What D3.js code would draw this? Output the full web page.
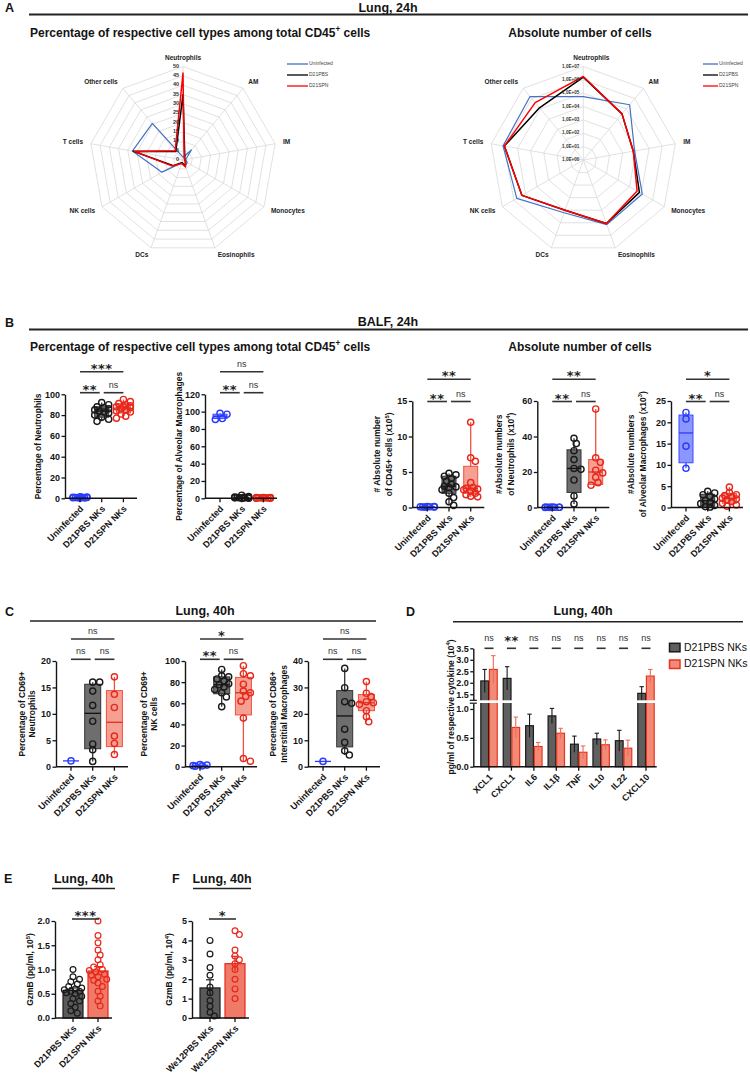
<!DOCTYPE html>
<html><head><meta charset="utf-8">
<script src="https://cdn.jsdelivr.net/npm/d3@7"></script>
<style>body{margin:0;background:#fff}svg{display:block}</style>
</head><body>
<svg id="fig" width="750" height="1085"></svg>
<script>
// ================= DATA =================
// Panel A – radar charts (Lung, 24h)
const radarCats = ["Neutrophils","AM","IM","Monocytes","Eosinophils","DCs","NK cells","T cells","Other cells"];
const radarSeries = ["Uninfected","D21PBS","D21SPN"];
const pctUninfected = [1.5, 7, 1.5, 2.6, 3.5, 1.5, 13, 27.5, 25.5];
const pctD21PBS     = [35, 1.5, 1, 1.5, 3.5, 1.5, 6, 27, 6];
const pctD21SPN     = [46.5, 1, 1, 1.5, 4, 2, 6.5, 26.5, 6.5];
const absUninfected = [5.6e4, 2.5e5, 7.9e3, 1.26e5, 1.4e5, 1.6e4, 5.6e5, 1.26e6, 1.6e6];
const absD21PBS     = [1.6e6, 3.2e4, 6.3e3, 7.1e4, 1.15e5, 1.0e4, 2.0e5, 1.0e6, 1.26e5];
const absD21SPN     = [1.8e6, 3.2e4, 6.3e3, 4.5e4, 1.15e5, 1.0e4, 2.0e5, 1.0e6, 4.0e5];
const pctTicks = [0,5,10,15,20,25,30,35,40,45,50];
const absTicks = [1e0,1e1,1e2,1e3,1e4,1e5,1e6,1e7];

// Panels B/C – groups
const groups3 = ["Uninfected","D21PBS NKs","D21SPN NKs"];
// B: % neutrophils (BALF)
const neutPctUninf = [0.2,0.4,0.5,0.7,0.8,1.0,1.2,1.5,0.6,0.9];
const neutPctPBS   = [74,76,78,80,82,83,84,85,86,87,88,90,92];
const neutPctSPN   = [77,79,81,83,84,85,86,87,88,88,89,90,91,93,95];
const neutPctBox   = [[0.2,0.4,0.7,1.0,1.5],[74,78,84,88,92],[77,82,87,91,95]];
// B: % alveolar macrophages
const amPctUninf = [91,92,97,98];
const amPctPBS   = [0.1,0.3,0.5,0.7,0.9,1.1,1.4,2.0,3.5,0.2,0.6];
const amPctSPN   = [0.1,0.2,0.3,0.4,0.5,0.6,0.7,0.8,0.9,1.0,0.3,0.5];
const amPctBox   = [[91,92,94.5,97,98],[0.1,0.3,0.7,1.4,3.5],[0.1,0.3,0.5,0.8,1.0]];
// B: absolute CD45+ (x10^5)
const cd45AbsUninf = [0.05,0.08,0.1,0.12,0.15,0.1,0.07];
const cd45AbsPBS   = [0.3,0.8,1.4,2.0,2.5,2.8,2.9,3.0,3.3,3.7,4.1,4.4,4.6,4.8];
const cd45AbsSPN   = [1.5,1.6,1.8,2.0,2.3,2.5,2.6,2.7,2.8,3.5,6.5,7.0,12.0];
const cd45AbsBox   = [[0.05,0.07,0.1,0.12,0.15],[0.3,2.0,3.0,4.4,4.8],[1.5,2.0,2.7,5.8,12.0]];
// B: absolute neutrophils (x10^4)
const neutAbsUninf = [0.05,0.1,0.1,0.15,0.2,0.1,0.05,0.1];
const neutAbsPBS   = [2,6.5,15.5,21.5,22,27,32,36,39];
const neutAbsSPN   = [12.5,14,17,19.5,21,25.5,28,55.5];
const neutAbsBox   = [[0.05,0.08,0.1,0.15,0.2],[2,8.5,22,32.5,39],[12.5,13,20,27,55.5]];
// B: absolute alveolar macrophages (x10^3)
const amAbsUninf = [9.2,14.4,20.8,22.3];
const amAbsPBS   = [0.1,0.2,0.5,0.9,1.2,1.6,2.0,2.6,3.0,3.4,3.8];
const amAbsSPN   = [0.3,0.6,1.0,1.4,1.8,2.0,2.2,2.5,2.8,3.0,3.5,4.8];
const amAbsBox   = [[9.2,10.5,17.5,21.7,22.3],[0.1,0.3,1.6,3.1,3.8],[0.3,1.0,2.1,3.3,4.8]];
// C: CD69+ neutrophils
const cd69NeutUninf = [1.1];
const cd69NeutPBS   = [1.0,3.2,4.3,8.6,11.6,14.3,16.0,16.0];
const cd69NeutSPN   = [2.3,4.4,5.8,11.2,13.7,17.0];
const cd69NeutBox   = [[1.1,1.1,1.1,1.1,1.1],[1.0,3.4,10.1,15.6,16.0],[2.3,3.8,8.4,14.4,17.0]];
// C: CD69+ NK cells
const cd69NKUninf = [0.5,0.8,1.0,1.5,2.0];
const cd69NKPBS   = [56.8,66,70,73,75.5,77.5,78.5,81,83,85,86,92];
const cd69NKSPN   = [5.2,7.7,46,62,66.5,70,71.5,78,86,88,95.5];
const cd69NKBox   = [[0.5,0.7,1.0,1.5,2.0],[56.8,69,77.5,85,92],[5.2,49,70,84.5,95.5]];
// C: CD86+ interstitial macrophages
const cd86IMUninf = [2.0];
const cd86IMPBS   = [4.4,6.0,9.2,14.2,24.0,24.6,29.9,37.2];
const cd86IMSPN   = [17.0,18.9,21.2,23.6,24.2,24.6,26.5,27.8,32.2];
const cd86IMBox   = [[2,2,2,2,2],[4.4,7.5,19.2,28.8,37.2],[17,21.2,24.2,27.3,32.2]];
// significance (top, lower-left, lower-right)
const sigNeutPct = ["***","**","ns"], sigAmPct = ["ns","**","ns"], sigCd45 = ["**","**","ns"];
const sigNeutAbs = ["**","**","ns"], sigAmAbs = ["*","**","ns"];
const sigCd69N = ["ns","ns","ns"], sigCd69NK = ["*","**","ns"], sigCd86 = ["ns","ns","ns"];

// D: cytokines
const cytokines  = ["XCL1","CXCL1","IL6","IL1β","TNF","IL10","IL22","CXCL10"];
const cytoGroups = ["D21PBS NKs","D21SPN NKs"];
const cytoPBS    = [2.08,2.19,0.71,0.88,0.39,0.48,0.45,1.54];
const cytoPBSerr = [0.50,0.51,0.20,0.13,0.14,0.10,0.18,0.29];
const cytoSPN    = [2.58,0.68,0.35,0.58,0.25,0.38,0.32,2.29];
const cytoSPNerr = [0.60,0.18,0.07,0.085,0.11,0.085,0.14,0.29];
const cytoSig    = ["ns","**","ns","ns","ns","ns","ns","ns"];
const cytoTicksLow = [0,0.5,1.0], cytoTicksHigh = [1.5,2.0,2.5,3.0,3.5];

// E / F: GzmB
const gzmECats = ["D21PBS NKs","D21SPN NKs"];
const gzmEPBS  = [1.0,0.85,0.8,0.75,0.7,0.65,0.62,0.6,0.58,0.55,0.55,0.52,0.5,0.45,0.4,0.35,0.3,0.22,0.15,0.1];
const gzmESPN  = [2.0,1.7,1.55,1.4,1.3,1.2,1.1,1.05,1.0,0.98,0.95,0.9,0.88,0.85,0.8,0.78,0.72,0.65,0.55,0.45,0.35,0.25];
const gzmEMean = [0.57,0.97], gzmESem = [0.05,0.09];
const gzmFCats = ["We12PBS NKs","We12SPN NKs"];
const gzmFPBS  = [4.0,3.3,2.6,2.2,1.6,1.3,0.9,0.6,0.3,0.1];
const gzmFSPN  = [4.5,4.3,3.5,3.2,3.0,2.8,2.5,2.0,1.5,1.0];
const gzmFMean = [1.55,2.8], gzmFSem = [0.42,0.38];

// ================= DRAWING =================
const svg = d3.select("#fig");
const FF = '"Liberation Sans", Arial, Helvetica, sans-serif';
const INK = "#141414";

function rich(t, s, fs){
  const parts = s.split(/(\^.)/).filter(p=>p.length);
  let up=false;
  parts.forEach(p=>{
    if(p[0]==='^'){ t.append("tspan").attr("dy", up?0:-fs*0.4).attr("font-size", fs*0.68).text(p[1]); up=true; }
    else { t.append("tspan").attr("dy", up?fs*0.4:0).text(p); up=false; }
  });
}
function txt(x,y,s,o={}){
  const fs=o.size||10;
  const t=svg.append("text").attr("x",x).attr("y",y).attr("font-family",o.family||FF)
    .attr("font-size",fs).attr("font-weight",o.weight||"bold").attr("fill",o.fill||INK)
    .attr("text-anchor",o.anchor||"start");
  if(o.baseline) t.attr("dominant-baseline",o.baseline);
  if(o.ls!==undefined) t.attr("letter-spacing",o.ls);
  if(o.rotate!==undefined) t.attr("transform",`rotate(${o.rotate},${x},${y})`);
  rich(t,s,fs);
  return t;
}
function hline(x1,x2,y,w=1.6,c="#222"){
  svg.append("line").attr("x1",x1).attr("x2",x2).attr("y1",y).attr("y2",y).attr("stroke",c).attr("stroke-width",w);
}

// ---- headers ----
txt(5,12,"A",{size:12.5}); txt(388,12,"Lung, 24h",{size:12.5,anchor:"middle"}); hline(29,748,14.5,1.8);
txt(30,36.5,"Percentage of respective cell types among total CD45^+ cells",{size:12});
txt(580,36.5,"Absolute number of cells",{size:12,anchor:"middle"});
txt(5,326.5,"B",{size:12.5}); txt(388,326,"BALF, 24h",{size:12.5,anchor:"middle"}); hline(29,748,329.5,1.8);
txt(30,351,"Percentage of respective cell types among total CD45^+ cells",{size:12});
txt(580,350.5,"Absolute number of cells",{size:12,anchor:"middle"});
txt(5,616,"C",{size:12.5}); txt(205,615,"Lung, 40h",{size:12.5,anchor:"middle"}); hline(30,376,621,1.6);
txt(406,616,"D",{size:12.5}); txt(583,615,"Lung, 40h",{size:12.5,anchor:"middle"}); hline(453,743,621.7,1.6);
txt(4,883,"E",{size:12.5}); txt(83.5,883,"Lung, 40h",{size:12.5,anchor:"middle"}); hline(52,115,888.5,1.6);
txt(172,883,"F",{size:12.5}); txt(222,883,"Lung, 40h",{size:12.5,anchor:"middle"}); hline(193,251,888.5,1.6);

// ---- radar ----
const radarColors = ["#4472c4","#000000","#ff0000"];
function radar(cx,cy,R,rScale,ringVals,tickVals,tickFmt,seriesVals,legX,legLen,tickFs,topLabelDx){
  const n=radarCats.length, step=2*Math.PI/n;
  const pt=(i,r)=>[cx+r*Math.sin(i*step), cy-r*Math.cos(i*step)];
  const g=svg.append("g");
  ringVals.forEach(v=>{
    const r=rScale(v);
    g.append("polygon").attr("points",d3.range(n).map(i=>pt(i,r).join(",")).join(" "))
      .attr("fill","none").attr("stroke","#d9d9d9").attr("stroke-width",0.8);
  });
  d3.range(n).forEach(i=>{const [x,y]=pt(i,R);
    g.append("line").attr("x1",cx).attr("y1",cy).attr("x2",x).attr("y2",y).attr("stroke","#d9d9d9").attr("stroke-width",0.8);});
  const line=d3.lineRadial().angle((d,i)=>i*step).radius(d=>rScale(d)).curve(d3.curveLinearClosed);
  seriesVals.forEach((vals,k)=>{
    g.append("path").attr("transform",`translate(${cx},${cy})`).attr("d",line(vals))
      .attr("fill","none").attr("stroke",radarColors[k]).attr("stroke-width",k===0?1.2:1.5).attr("stroke-linejoin","round");
  });
  tickVals.forEach(v=>txt(cx-4,cy-rScale(v),tickFmt(v),{size:tickFs,anchor:"end",baseline:"middle",fill:"#333"}));
  radarCats.forEach((c,i)=>{
    const a=i*step, s=Math.sin(a);
    const [x,y]=pt(i,R+8);
    const anchor=Math.abs(s)<0.1?"middle":(s>0?"start":"end");
    txt(i===0?x+topLabelDx:x,i===0?y-1:y,c,{size:6.5,anchor,baseline:"middle",fill:"#222"});
  });
  radarSeries.forEach((s,k)=>{
    const yy=64+k*11;
    svg.append("line").attr("x1",legX).attr("x2",legX+legLen).attr("y1",yy).attr("y2",yy).attr("stroke",radarColors[k]).attr("stroke-width",1.3);
    txt(legX+legLen+1,yy,s,{size:5,weight:"normal",baseline:"middle",fill:"#444"});
  });
}
radar(183,160,93.5,d3.scaleLinear().domain([0,50]).range([0,93.5]),pctTicks.slice(1),pctTicks,d=>String(d),
  [pctUninfected,pctD21PBS,pctD21SPN],287,21,5.5,0);
radar(583.3,160,93.5,d3.scaleLog().domain([1,1e7]).range([0,93.5]),absTicks.slice(1),absTicks,d=>"1,0E+0"+Math.round(Math.log10(d)),
  [absUninfected,absD21PBS,absD21SPN],703,15,4.6,8);

// ---- box charts ----
const pal=[
  {pt:"#2a3bff",box:"#8c96ff",bs:"#3b4bff",wh:"#3b4bff",med:"#2a3bff"},
  {pt:"#1a1a1a",box:"#6e6e6e",bs:"#333333",wh:"#333333",med:"#111111"},
  {pt:"#e8281c",box:"#f4a092",bs:"#f0503e",wh:"#f0503e",med:"#e0301f"}
];
function dodge(vals,y,cx,r,maxOff){
  const items=vals.map(v=>({y:y(v)})).sort((a,b)=>a.y-b.y);
  const cands=[0]; for(let k=1;k<=14;k++){cands.push(k*r*0.75,-k*r*0.75);}
  const cs=cands.filter(o=>Math.abs(o)<=maxOff);
  const minD=r*1.75, placed=[];
  items.forEach(p=>{
    let chosen=null,bestOv=Infinity,bestO=0;
    for(const o of cs){
      let ov=0; placed.forEach(q=>{const d=Math.hypot(q.x-o,q.y-p.y); if(d<minD) ov+=minD-d;});
      if(ov===0){chosen=o;break;}
      if(ov<bestOv){bestOv=ov;bestO=o;}
    }
    placed.push({x:chosen!==null?chosen:bestO,y:p.y});
  });
  return placed.map(p=>({x:cx+p.x,y:p.y}));
}
function styleAxis(ag,fs){
  ag.attr("font-family",null).attr("font-size",null);
  ag.select(".domain").attr("stroke",INK).attr("stroke-width",1.4);
  ag.selectAll(".tick line").attr("stroke",INK).attr("stroke-width",1.3);
  ag.selectAll(".tick text").attr("font-family",FF).attr("font-weight","bold").attr("font-size",fs).attr("fill",INK);
}
function sigMark(g,cx,yy,label){
  if(label==="ns") txt(cx,yy-5,"ns",{size:9,weight:"normal",anchor:"middle",fill:"#333"});
  else txt(cx,yy+1,label,{size:13,family:'"DejaVu Sans", sans-serif',anchor:"middle",fill:"#222",ls:0.5});
}
function xLabels(g,x,cats,zero,fs){
  cats.forEach(c=>txt(x(c)+4,zero+11,c,{size:fs,anchor:"end",rotate:-45}));
}
function boxChart(o){
  const y=d3.scaleLinear().domain([0,o.max]).range([o.zero,o.top]);
  const x=d3.scalePoint().domain(groups3).range([o.ax+15,o.ax+58.4]);
  const g=svg.append("g");
  groups3.forEach((c,i)=>{
    const p=pal[i],b=o.boxes[i],cx=x(c),w=o.boxW;
    g.append("line").attr("x1",cx).attr("x2",cx).attr("y1",y(b[0])).attr("y2",y(b[4])).attr("stroke",p.wh).attr("stroke-width",1.3);
    g.append("rect").attr("x",cx-w/2).attr("width",w).attr("y",y(b[3])).attr("height",Math.max(y(b[1])-y(b[3]),0))
      .attr("fill",p.box).attr("stroke",p.bs).attr("stroke-width",1);
    g.append("line").attr("x1",cx-w/2).attr("x2",cx+w/2).attr("y1",y(b[2])).attr("y2",y(b[2])).attr("stroke",p.med).attr("stroke-width",1.3);
  });
  groups3.forEach((c,i)=>{
    const pos=dodge(o.values[i],y,x(c),3.1,o.spread||8);
    g.selectAll(null).data(pos).join("circle").attr("cx",d=>d.x).attr("cy",d=>d.y).attr("r",3.1)
      .attr("fill","none").attr("stroke",pal[i].pt).attr("stroke-width",1.4);
  });
  const ag=g.append("g").attr("transform",`translate(${o.ax},0)`)
    .call(d3.axisLeft(y).tickValues(o.ticks).tickFormat(d3.format("d")).tickSize(3.5).tickSizeOuter(0).tickPadding(1.5));
  styleAxis(ag,9);
  hline(o.ax,o.ax+72,o.zero,1.4,INK);
  groups3.forEach(c=>g.append("line").attr("x1",x(c)).attr("x2",x(c)).attr("y1",o.zero).attr("y2",o.zero+4).attr("stroke",INK).attr("stroke-width",1.3));
  xLabels(g,x,groups3,o.zero,9);
  const mid=(o.top+o.zero)/2;
  o.label.forEach((l,k)=>txt(o.labelX[k],mid,l,{size:8.5,anchor:"middle",baseline:"middle",rotate:-90}));
  const c0=x(groups3[0]),c1=x(groups3[1]),c2=x(groups3[2]);
  [[c0,c2,o.sigY[0],o.sig[0]],[c0,c1-2,o.sigY[1],o.sig[1]],[c1+2,c2,o.sigY[1],o.sig[2]]].forEach(([a,b,yy,l])=>{
    hline(a,b,yy,1.6,"#333"); sigMark(g,(a+b)/2,yy,l);
  });
}
boxChart({ax:65,top:394.3,zero:498.3,max:100,ticks:[0,20,40,60,80,100],values:[neutPctUninf,neutPctPBS,neutPctSPN],
  boxes:neutPctBox,boxW:14,label:["Percentage of Neutrophils"],labelX:[39],sigY:[371.7,392.7],sig:sigNeutPct});
boxChart({ax:205,top:394.3,zero:498.3,max:120,ticks:[0,20,40,60,80,100,120],values:[amPctUninf,amPctPBS,amPctSPN],
  boxes:amPctBox,boxW:14,label:["Percentage of Alveolar Macrophages"],labelX:[180],sigY:[371.7,392.7],sig:sigAmPct});
boxChart({ax:412.3,top:401,zero:507.5,max:15,ticks:[0,5,10,15],values:[cd45AbsUninf,cd45AbsPBS,cd45AbsSPN],
  boxes:cd45AbsBox,boxW:14,label:["# Absolute number","of CD45+ cells (x10^5)"],labelX:[378,390],sigY:[379.3,401.5],sig:sigCd45});
boxChart({ax:537.3,top:401,zero:507.5,max:60,ticks:[0,20,40,60],values:[neutAbsUninf,neutAbsPBS,neutAbsSPN],
  boxes:neutAbsBox,boxW:14,label:["#Absolute numbers","of Neutrophils (x10^4)"],labelX:[500,511.5],sigY:[379.3,401.5],sig:sigNeutAbs});
boxChart({ax:671,top:401,zero:507.5,max:25,ticks:[0,5,10,15,20,25],values:[amAbsUninf,amAbsPBS,amAbsSPN],
  boxes:amAbsBox,boxW:14,label:["#Absolute numbers","of Alveolar Macrophages (x10^3)"],labelX:[632,643.5],sigY:[379.3,401.5],sig:sigAmAbs});
boxChart({ax:56,top:661,zero:766.7,max:20,ticks:[0,5,10,15,20],values:[cd69NeutUninf,cd69NeutPBS,cd69NeutSPN],
  boxes:cd69NeutBox,boxW:16,label:["Percentage of CD69+","Neutrophils"],labelX:[23,33],sigY:[639,659.3],sig:sigCd69N});
boxChart({ax:185,top:661,zero:766.7,max:100,ticks:[0,20,40,60,80,100],values:[cd69NKUninf,cd69NKPBS,cd69NKSPN],
  boxes:cd69NKBox,boxW:16,label:["Percentage of CD69+","NK cells"],labelX:[145,155],sigY:[639,659.3],sig:sigCd69NK});
boxChart({ax:308,top:661,zero:766.7,max:40,ticks:[0,10,20,30,40],values:[cd86IMUninf,cd86IMPBS,cd86IMSPN],
  boxes:cd86IMBox,boxW:16,label:["Percentage of CD86+","Interstitial Macrophages"],labelX:[274,285],sigY:[639,659.3],sig:sigCd86});

// ---- D: cytokine bar chart with broken axis ----
(function(){
  const ax=473.3, zero=766.7;
  const yLow=d3.scaleLinear().domain([0,1.1]).range([zero,703.2]);
  const yHigh=d3.scaleLinear().domain([1.25,3.5]).range([700,648.3]);
  const yD=v=>v<=1.1?yLow(v):(v>=1.25?yHigh(v):701.6);
  const x0=d3.scaleBand().domain(cytokines).range([477.8,657.2]);
  const hb=x0.bandwidth()/2;
  const x1=d3.scaleBand().domain(cytoGroups).range([hb-8.2,hb+8.2]).paddingInner(0.1);
  const g=svg.append("g");
  const sets=[{v:cytoPBS,e:cytoPBSerr,fill:"#5f5f5f",st:"#1a1a1a",err:"#1a1a1a"},{v:cytoSPN,e:cytoSPNerr,fill:"#f28a78",st:"#e8341f",err:"#f06a58"}];
  sets.forEach((s,k)=>{
    cytokines.forEach((c,i)=>{
      const bx=x0(c)+x1(cytoGroups[k]), bw=x1.bandwidth(), cx=bx+bw/2, v=s.v[i], e=s.e[i];
      g.append("rect").attr("x",bx).attr("width",bw).attr("y",yD(v)).attr("height",zero-yD(v)).attr("fill",s.fill).attr("stroke",s.st).attr("stroke-width",1.2);
      g.append("line").attr("x1",cx).attr("x2",cx).attr("y1",yD(v-e)).attr("y2",yD(v+e)).attr("stroke",s.err).attr("stroke-width",1.1);
      g.append("line").attr("x1",cx-2.2).attr("x2",cx+2.2).attr("y1",yD(v+e)).attr("y2",yD(v+e)).attr("stroke",s.err).attr("stroke-width",1.1);
    });
  });
  g.append("rect").attr("x",ax+1).attr("width",186).attr("y",700.3).attr("height",2.7).attr("fill","#fff");
  const a1=g.append("g").attr("transform",`translate(${ax},0)`).call(d3.axisLeft(yLow).tickValues(cytoTicksLow).tickFormat(d3.format(".1f")).tickSize(3).tickSizeOuter(0).tickPadding(1.5));
  const a2=g.append("g").attr("transform",`translate(${ax},0)`).call(d3.axisLeft(yHigh).tickValues(cytoTicksHigh).tickFormat(d3.format(".1f")).tickSize(3).tickSizeOuter(0).tickPadding(1.5));
  styleAxis(a1,9); styleAxis(a2,9);
  [700.3,703.2].forEach(yy=>hline(ax-3.5,ax+3.5,yy,1.2,INK));
  hline(ax,ax+183.4,zero,1.4,INK);
  cytokines.forEach(c=>{const cx=x0(c)+hb; g.append("line").attr("x1",cx).attr("x2",cx).attr("y1",zero).attr("y2",zero+4).attr("stroke",INK).attr("stroke-width",1.3);});
  cytokines.forEach(c=>txt(x0(c)+hb+4,zero+11,c,{size:9,anchor:"end",rotate:-45}));
  txt(451.5,707,"pg/ml of respective cytokine (10^4)",{size:8.5,anchor:"middle",baseline:"middle",rotate:-90});
  cytokines.forEach((c,i)=>{
    const cx=x0(c)+hb;
    hline(cx-4.5,cx+4.5,648.3,1.6,"#333");
    if(cytoSig[i]==="ns") txt(cx,641,"ns",{size:9,weight:"normal",anchor:"middle",fill:"#333"});
    else txt(cx,645,cytoSig[i],{size:13,family:'"DejaVu Sans", sans-serif',anchor:"middle",fill:"#222",ls:0.5});
  });
  sets.forEach((s,k)=>{
    const yy=643.3+k*16.7;
    svg.append("rect").attr("x",669.5).attr("y",yy).attr("width",10.5).attr("height",8.5).attr("fill",s.fill).attr("stroke",s.st).attr("stroke-width",1.5);
    txt(684,yy+4.3,cytoGroups[k],{size:10.5,weight:"normal",baseline:"middle",fill:"#111"});
  });
})();

// ---- E / F: bars with dots ----
function barDots(o){
  const y=d3.scaleLinear().domain([0,o.max]).range([o.zero,o.top]);
  const x=d3.scalePoint().domain(o.cats).range([o.ax+18,o.ax+43]);
  const g=svg.append("g");
  const st=[{fill:"#5a5a5a",st:"#1a1a1a",pt:"#1a1a1a"},{fill:"#f07a68",st:"#e8281c",pt:"#e8281c"}];
  o.cats.forEach((c,i)=>{
    const cx=x(c), m=o.mean[i], e=o.sem[i], s=st[i];
    g.append("rect").attr("x",cx-10).attr("width",20).attr("y",y(m)).attr("height",o.zero-y(m)).attr("fill",s.fill).attr("stroke",s.st).attr("stroke-width",1.2);
    const pos=dodge(o.values[i],y,cx,2.9,9);
    g.selectAll(null).data(pos).join("circle").attr("cx",d=>d.x).attr("cy",d=>d.y).attr("r",2.9)
      .attr("fill","none").attr("stroke",s.pt).attr("stroke-width",1.2);
    g.append("line").attr("x1",cx).attr("x2",cx).attr("y1",y(m-e)).attr("y2",y(m+e)).attr("stroke",s.st).attr("stroke-width",1.2);
    g.append("line").attr("x1",cx-4).attr("x2",cx+4).attr("y1",y(m+e)).attr("y2",y(m+e)).attr("stroke",s.st).attr("stroke-width",1.2);
  });
  const ag=g.append("g").attr("transform",`translate(${o.ax},0)`)
    .call(d3.axisLeft(y).tickValues(o.ticks).tickFormat(d3.format(o.fmt)).tickSize(3.5).tickSizeOuter(0).tickPadding(1.5));
  styleAxis(ag,9);
  hline(o.ax,o.ax+57,o.zero,1.4,INK);
  o.cats.forEach(c=>g.append("line").attr("x1",x(c)).attr("x2",x(c)).attr("y1",o.zero).attr("y2",o.zero+4).attr("stroke",INK).attr("stroke-width",1.3));
  xLabels(g,x,o.cats,o.zero,9);
  txt(o.labelX,(o.top+o.zero)/2,o.label,{size:8.5,anchor:"middle",baseline:"middle",rotate:-90});
  const a=x(o.cats[0])-1,b=x(o.cats[1])+1;
  hline(a,b,919,1.6,"#333"); sigMark(g,(a+b)/2,919,o.sig);
}
barDots({ax:55,top:921,zero:1018,max:2,ticks:[0,0.5,1,1.5,2],fmt:".1f",cats:gzmECats,values:[gzmEPBS,gzmESPN],
  mean:gzmEMean,sem:gzmESem,label:"GzmB (pg/ml, 10^5)",labelX:31,sig:"***"});
barDots({ax:192,top:921,zero:1018,max:5,ticks:[0,1,2,3,4,5],fmt:"d",cats:gzmFCats,values:[gzmFPBS,gzmFSPN],
  mean:gzmFMean,sem:gzmFSem,label:"GzmB (pg/ml, 10^4)",labelX:170,sig:"*"});
</script>
</body></html>
